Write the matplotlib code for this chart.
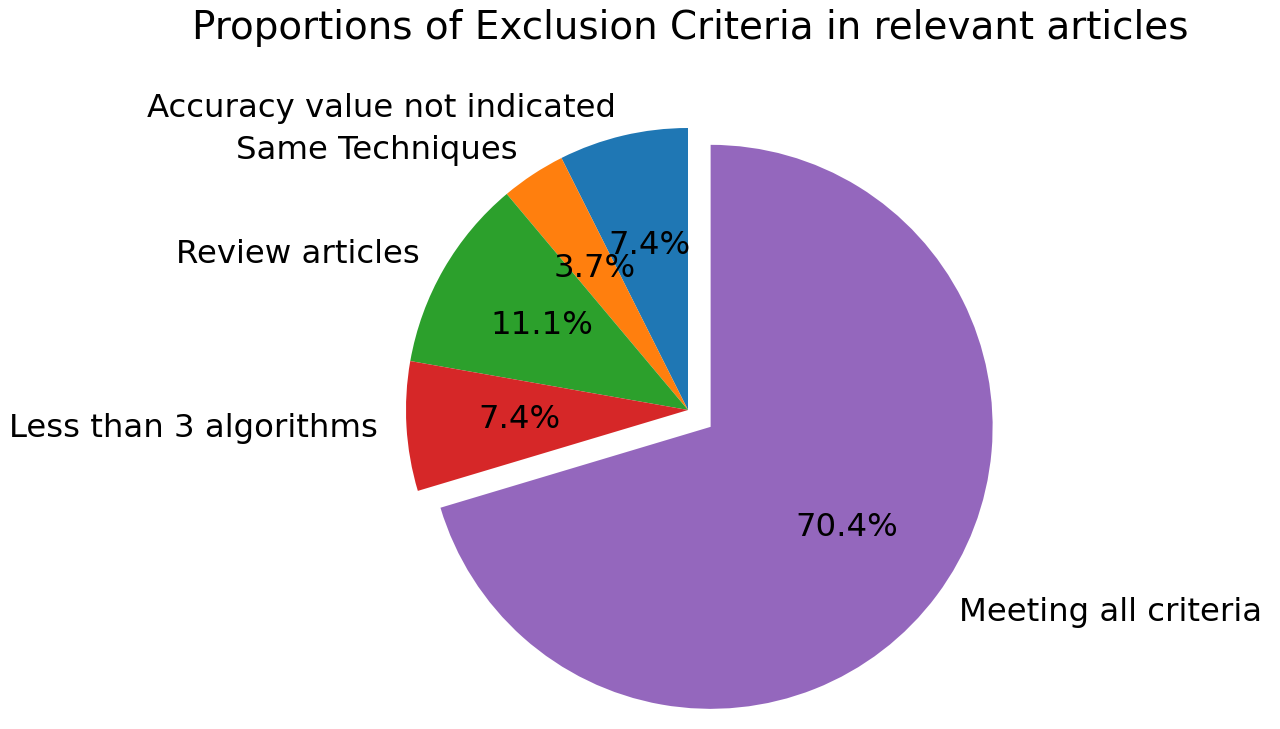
import matplotlib
matplotlib.use("Agg")
import matplotlib.pyplot as plt

labels = ["Accuracy value not indicated", "Same Techniques", "Review articles",
          "Less than 3 algorithms", "Meeting all criteria"]
counts = [2, 1, 3, 2, 19]
explode = [0, 0, 0, 0, 0.1]

W, H = 1280, 729
DPI = 233
fig = plt.figure(figsize=(W / DPI, H / DPI), dpi=DPI)
cx, cy, r = 688, 410, 282
side = 2.5 * r
ax = fig.add_axes([(cx - side / 2) / W, (H - cy - side / 2) / H, side / W, side / H])
ax.pie(counts, labels=labels, autopct="%1.1f%%", startangle=90, explode=explode)
ax.set_aspect("equal")
fig.text(690 / W, 1 - 28 / H, "Proportions of Exclusion Criteria in relevant articles",
         ha="center", va="center", fontsize=12)
fig.savefig("out.png", dpi=DPI)
